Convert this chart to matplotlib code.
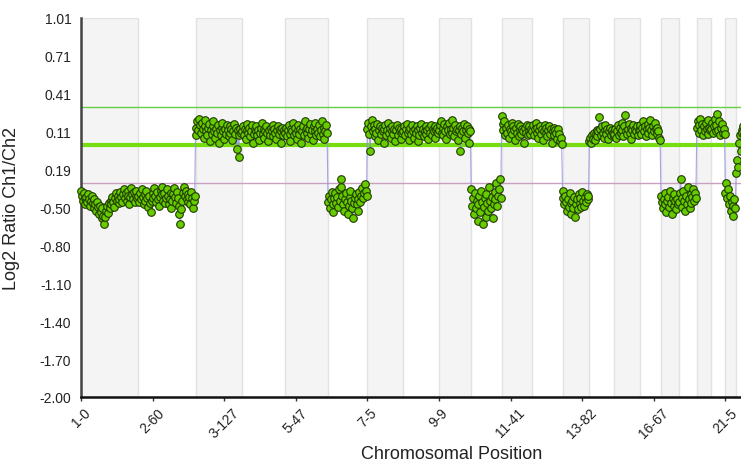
import matplotlib
matplotlib.use("Agg")
import matplotlib.pyplot as plt
import numpy as np

plt.rcParams['font.family'] = ['Liberation Sans', 'DejaVu Sans']

# log2 ratio of each probe, chromosome by chromosome
chr1 = [-0.36, -0.40, -0.44, -0.38, -0.42, -0.47, -0.41, -0.45, -0.39, -0.43, -0.48, -0.44, -0.40, -0.46, -0.50, -0.43,
        -0.47, -0.52, -0.45, -0.49, -0.55, -0.48, -0.53, -0.58, -0.50, -0.56, -0.63, -0.57, -0.52, -0.48, -0.54, -0.46,
        -0.50, -0.44, -0.47, -0.41, -0.45, -0.49, -0.42, -0.38, -0.44, -0.40, -0.46, -0.43, -0.37, -0.41, -0.45, -0.39,
        -0.35, -0.42, -0.38, -0.44, -0.36, -0.40, -0.47, -0.41, -0.34, -0.39, -0.43, -0.37, -0.45, -0.40, -0.36, -0.42]
chr2 = [-0.40, -0.45, -0.38, -0.43, -0.35, -0.41, -0.47, -0.39, -0.44, -0.36, -0.42, -0.49, -0.40, -0.46, -0.53, -0.44,
        -0.38, -0.42, -0.34, -0.40, -0.45, -0.37, -0.43, -0.48, -0.41, -0.36, -0.33, -0.39, -0.44, -0.38, -0.46, -0.42,
        -0.35, -0.40, -0.47, -0.43, -0.38, -0.50, -0.44, -0.39, -0.34, -0.41, -0.46, -0.37, -0.42, -0.48, -0.55, -0.63,
        -0.51, -0.44, -0.38, -0.33, -0.40, -0.36, -0.43, -0.39, -0.45, -0.41, -0.47, -0.37, -0.42, -0.50, -0.44, -0.40]
chr3 = [0.08, 0.14, 0.19, 0.12, 0.21, 0.16, 0.10, 0.18, 0.13, 0.06, 0.15, 0.20, 0.11, 0.08, 0.14, 0.17,
        0.03, 0.12, 0.09, 0.15, 0.19, 0.11, 0.06, 0.13, 0.10, 0.16, 0.02, 0.12, 0.08, 0.14, 0.18, 0.11,
        0.05, 0.13, 0.09, 0.16, 0.12, 0.07, 0.15, 0.10, 0.13, 0.04, 0.11, 0.17, 0.09, 0.14, -0.03, 0.12,
        -0.09, 0.08, 0.13, 0.10]
chr4 = [0.11, 0.15, 0.08, 0.13, 0.05, 0.12, 0.17, 0.10, 0.14, 0.07, 0.11, 0.16, 0.02, 0.09, 0.13, 0.11,
        0.15, 0.08, 0.12, 0.04, 0.10, 0.14, 0.18, 0.09, 0.13, 0.06, 0.11, 0.15, 0.10, 0.03, 0.12, 0.08,
        0.14, 0.11, 0.16, 0.07, 0.13, 0.10, 0.05, 0.12, 0.15, 0.09, 0.13, 0.02, 0.11, 0.14, 0.08, 0.12]
chr5 = [0.10, 0.14, 0.07, 0.12, 0.16, 0.09, 0.03, 0.13, 0.11, 0.18, 0.08, 0.14, 0.10, 0.05, 0.12, 0.16,
        0.09, 0.13, 0.02, 0.11, 0.15, 0.08, 0.19, 0.12, 0.10, 0.14, 0.06, 0.13, 0.17, 0.09, 0.12, 0.04,
        0.15, 0.11, 0.18, 0.08, 0.13, 0.10, 0.16, 0.07, 0.12, 0.19, 0.09, 0.14, 0.05, 0.11, 0.16, 0.10]
chr6 = [-0.45, -0.40, -0.50, -0.43, -0.37, -0.47, -0.53, -0.42, -0.38, -0.46, -0.41, -0.49, -0.35, -0.44, -0.27, -0.33,
        -0.40, -0.47, -0.52, -0.43, -0.38, -0.45, -0.55, -0.48, -0.41, -0.36, -0.44, -0.50, -0.58, -0.46, -0.42, -0.39,
        -0.47, -0.52, -0.43, -0.37, -0.45, -0.40, -0.34, -0.42, -0.38, -0.31, -0.36, -0.40]
chr7 = [0.13, 0.18, 0.09, -0.05, 0.15, 0.20, 0.11, 0.16, 0.07, 0.13, 0.10, 0.17, 0.04, 0.12, 0.15, 0.09,
        0.14, 0.11, 0.02, 0.13, 0.16, 0.08, 0.12, 0.18, 0.10, 0.14, 0.06, 0.11, 0.15, 0.09, 0.13, 0.03,
        0.12, 0.16, 0.08, 0.14, 0.11, 0.05, 0.13, 0.10]
chr8 = [0.11, 0.15, 0.08, 0.13, 0.17, 0.10, 0.04, 0.12, 0.14, 0.09, 0.16, 0.11, 0.06, 0.13, 0.10, 0.15,
        0.03, 0.12, 0.08, 0.14, 0.17, 0.10, 0.13, 0.07, 0.11, 0.15, 0.09, 0.12, 0.05, 0.14, 0.10, 0.16,
        0.08, 0.13, 0.11, 0.15, 0.06, 0.12, 0.14, 0.10]
chr9 = [0.12, 0.16, 0.19, 0.10, 0.14, 0.08, 0.17, 0.11, 0.05, 0.15, 0.12, 0.18, 0.09, 0.13, 0.20, 0.10,
        0.14, 0.07, 0.16, 0.11, 0.13, 0.04, 0.12, 0.15, -0.05, 0.09, 0.14, 0.11, 0.17, 0.06, 0.12, 0.15,
        0.10, 0.13, 0.02, 0.11]
chr10 = [-0.35, -0.48, -0.42, -0.55, -0.38, -0.50, -0.44, -0.60, -0.47, -0.40, -0.53, -0.36, -0.45, -0.63, -0.49, -0.42,
         -0.57, -0.39, -0.46, -0.52, -0.33, -0.44, -0.50, -0.41, -0.58, -0.47, -0.37, -0.43, -0.30, -0.48, -0.40, -0.35,
         -0.27, -0.42]
chr11 = [0.23, 0.17, 0.12, 0.19, 0.08, 0.14, 0.10, 0.16, 0.06, 0.13, 0.11, 0.18, 0.09, 0.15, 0.12, 0.04,
         0.14, 0.10, 0.17, 0.07, 0.12, 0.15, 0.09, 0.13, 0.11, 0.02, 0.14, 0.10, 0.16, 0.08, 0.12, 0.15,
         0.09, 0.13]
chr12 = [0.11, 0.16, 0.08, 0.13, 0.18, 0.10, 0.14, 0.06, 0.12, 0.15, 0.09, 0.13, 0.04, 0.11, 0.16, 0.10,
         0.14, 0.07, 0.12, 0.15, 0.09, 0.13, 0.02, 0.11, 0.14, 0.08, 0.12, 0.10, 0.05, 0.13, 0.09, 0.03,
         0.06, 0.01]
chr13 = [-0.36, -0.42, -0.47, -0.40, -0.45, -0.52, -0.43, -0.49, -0.38, -0.46, -0.55, -0.44, -0.50, -0.41, -0.57, -0.47,
         -0.43, -0.51, -0.39, -0.46, -0.42, -0.49, -0.37, -0.44, -0.48, -0.41, -0.45, -0.39, -0.43, -0.40]
chr14 = [0.03, 0.06, 0.02, 0.08, 0.05, 0.10, 0.04, 0.09, 0.12, 0.07, 0.11, 0.22, 0.13, 0.08, 0.15, 0.10,
         0.06, 0.12, 0.16, 0.09, 0.13, 0.05, 0.11, 0.14, 0.08, 0.12, 0.10, 0.07]
chr15 = [0.09, 0.13, 0.06, 0.11, 0.16, 0.08, 0.14, 0.10, 0.18, 0.12, 0.07, 0.15, 0.24, 0.11, 0.09, 0.13,
         0.17, 0.10, 0.14, 0.05, 0.12, 0.16, 0.09, 0.13, 0.11, 0.15, 0.08, 0.12]
chr16 = [0.12, 0.16, 0.09, 0.14, 0.19, 0.11, 0.15, 0.07, 0.13, 0.17, 0.10, 0.14, 0.20, 0.12, 0.08, 0.15,
         0.11, 0.18, 0.13, 0.09, 0.14, 0.11, 0.06, 0.04]
chr17 = [-0.40, -0.45, -0.50, -0.43, -0.38, -0.47, -0.53, -0.44, -0.41, -0.49, -0.36, -0.46, -0.55, -0.42, -0.48, -0.39,
         -0.44, -0.51, -0.43, -0.47]
chr18 = [-0.45, -0.38, -0.27, -0.42, -0.49, -0.36, -0.44, -0.52, -0.40, -0.47, -0.33, -0.43, -0.50, -0.39, -0.46, -0.41,
         -0.35, -0.44, -0.38, -0.42]
chr19 = [0.14, 0.19, 0.10, 0.16, 0.21, 0.12, 0.17, 0.08, 0.15, 0.11, 0.18, 0.13, 0.20, 0.09, 0.14, 0.12]
chr20 = [0.13, 0.18, 0.10, 0.15, 0.21, 0.11, 0.16, 0.25, 0.12, 0.19, 0.08, 0.14, 0.17, 0.10, 0.13, 0.09]
chr21 = [-0.38, -0.30, -0.42, -0.35, -0.47, -0.40, -0.52, -0.45, -0.56, -0.48, -0.43, -0.50]
chr22 = [-0.22, -0.12, -0.17, 0.02, 0.08, -0.05, 0.12, 0.10, 0.15, 0.09, 0.13, 0.11]

chromosomes = [chr1, chr2, chr3, chr4, chr5, chr6, chr7, chr8, chr9, chr10, chr11,
               chr12, chr13, chr14, chr15, chr16, chr17, chr18, chr19, chr20, chr21, chr22]

# reference lines
upper_threshold = 0.30
baseline = 0.0
lower_threshold = -0.30

# axis ticks
x_tick_step = 80
x_visible = 737.4
x_tick_labels = ['1-0', '2-60', '3-127', '5-47', '7-5', '9-9',
                 '11-41', '13-82', '16-67', '21-5']
y_tick_labels = ['1.01', '0.71', '0.41', '0.11', '0.19', '-0.50',
                 '-0.80', '-1.10', '-1.40', '-1.70', '-2.00']


def plot_profile():
    """Draw the log2 ratio profile along the genome."""
    ratios = np.concatenate([np.array(c, dtype=float) for c in chromosomes])
    positions = np.arange(len(ratios))
    bounds = np.concatenate([[0], np.cumsum([len(c) for c in chromosomes])])

    fig = plt.figure(figsize=(7.41, 4.64), dpi=100)
    ax = fig.add_axes([81 / 741, 1 - 398 / 464, 660 / 741, 379 / 464])

    # alternate chromosome shading
    for k in range(0, len(chromosomes), 2):
        ax.axvspan(bounds[k], bounds[k + 1], facecolor='#f4f4f4',
                   edgecolor='#e2e2e4', lw=1.0, zorder=0)

    ax.axhline(upper_threshold, color='#66cc44', lw=1.0, zorder=1)
    ax.axhline(lower_threshold, color='#c8a0c0', lw=1.0, zorder=1)
    ax.axhline(baseline, color='#77dd11', lw=3.0, zorder=1)

    ax.plot(positions, ratios, color='#9090e0', lw=0.8, alpha=0.8, zorder=2)
    ax.scatter(positions, ratios, s=30, facecolor='#66cc00',
               edgecolor='#1f3a00', linewidths=0.8, zorder=3, clip_on=False)

    ax.set_xlim(0, x_visible)
    ax.set_ylim(-2.0, 1.01)

    ax.set_yticks(np.linspace(1.01, -2.0, len(y_tick_labels)))
    ax.set_yticklabels(y_tick_labels)
    ax.tick_params(axis='y', length=0, pad=7, labelsize=10, labelcolor='#222222')

    ax.set_xticks(np.arange(len(x_tick_labels)) * x_tick_step)
    ax.set_xticklabels(x_tick_labels, rotation=45, ha='center')
    ax.tick_params(axis='x', length=3, width=1, color='#333333', pad=3,
                   labelsize=10, labelcolor='#222222')

    for side in ['top', 'right']:
        ax.spines[side].set_visible(False)
    ax.spines['left'].set_color('#444444')
    ax.spines['left'].set_linewidth(1.8)
    ax.spines['bottom'].set_color('#111111')
    ax.spines['bottom'].set_linewidth(1.8)

    ax.set_ylabel('Log2 Ratio Ch1/Ch2', fontsize=13, color='#222222')
    ax.yaxis.set_label_coords(-0.092, 0.50)
    ax.set_xlabel('Chromosomal Position', fontsize=13, color='#222222')
    ax.xaxis.set_label_coords(0.562, -0.127)

    fig.savefig('out.png', dpi=100)


if __name__ == "__main__":
    plot_profile()
